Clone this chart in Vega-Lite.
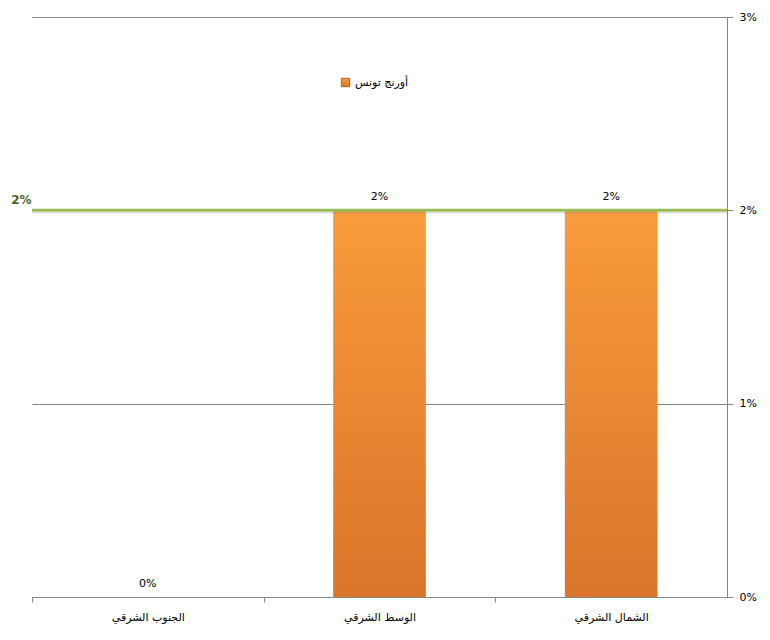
{
  "$schema": "https://vega.github.io/schema/vega-lite/v6.json",
  "width": 695,
  "height": 580,
  "autosize": {"type": "none"},
  "padding": {"left": 32, "top": 17, "right": 43, "bottom": 43},
  "background": "white",
  "config": {
    "view": {"stroke": null},
    "font": "DejaVu Sans",
    "axis": {"labelFont": "DejaVu Sans", "labelFontSize": 11, "labelColor": "#000000", "domainColor": "#868686", "tickColor": "#868686", "gridColor": "#868686"}
  },
  "data": {
    "values": [
      {"region": "الجنوب الشرقي", "share": 0},
      {"region": "الوسط الشرقي", "share": 0.02},
      {"region": "الشمال الشرقي", "share": 0.02}
    ]
  },
  "layer": [
    {
      "mark": {
        "type": "bar",
        "strokeWidth": 0,
        "fill": {"gradient": "linear", "x1": 0, "y1": 0, "x2": 0, "y2": 1, "stops": [{"offset": 0, "color": "#FA9B3C"}, {"offset": 1, "color": "#DA742A"}]}
      },
      "encoding": {
        "x": {
          "field": "region",
          "type": "nominal",
          "sort": null,
          "scale": {"paddingInner": 0.6, "paddingOuter": 0.3},
          "axis": {"title": null, "labelAngle": 0, "labelPadding": 9, "ticks": true, "tickSize": 5, "tickOffset": -115.8, "labelOffset": 115.8, "grid": false}
        },
        "y": {
          "field": "share",
          "type": "quantitative",
          "scale": {"domain": [0, 0.03]},
          "axis": {"orient": "right", "title": null, "values": [0, 0.01, 0.02, 0.03], "format": ".0%", "grid": true, "tickSize": 6, "labelPadding": 6}
        },
        "stroke": {
          "datum": "أورنج تونس",
          "scale": {"range": ["#B3611F"]},
          "legend": {"title": null, "orient": "none", "legendX": 308, "legendY": 60, "symbolType": "square", "symbolSize": 70, "labelFont": "DejaVu Sans", "labelFontSize": 11, "labelColor": "#000000", "symbolFillColor": "#F39237", "symbolStrokeWidth": 1}
        }
      }
    },
    {
      "mark": {"type": "text", "dy": -13, "fontSize": 11, "color": "#000000", "font": "DejaVu Sans"},
      "encoding": {
        "x": {"field": "region", "type": "nominal", "sort": null},
        "y": {"field": "share", "type": "quantitative", "axis": null},
        "text": {"field": "share", "type": "quantitative", "format": ".0%"}
      }
    },
    {
      "data": {"values": [{"target": 0.02}]},
      "mark": {"type": "rule", "color": "#7F7F7F", "strokeWidth": 2, "opacity": 0.2, "yOffset": 2.5},
      "encoding": {"y": {"field": "target", "type": "quantitative", "axis": null}}
    },
    {
      "data": {"values": [{"target": 0.02}]},
      "mark": {"type": "rule", "color": "#9BBB59", "strokeWidth": 3},
      "encoding": {
        "y": {
          "field": "target",
          "type": "quantitative",
          "axis": {"orient": "left", "title": null, "values": [0.02], "format": ".0%", "grid": false, "domain": false, "ticks": false, "labelPadding": 1, "labelOffset": -4, "labelColor": "#4F6228", "labelFontWeight": "bold", "labelFontSize": 12, "labelBaseline": "bottom"}
        }
      }
    }
  ]
}
